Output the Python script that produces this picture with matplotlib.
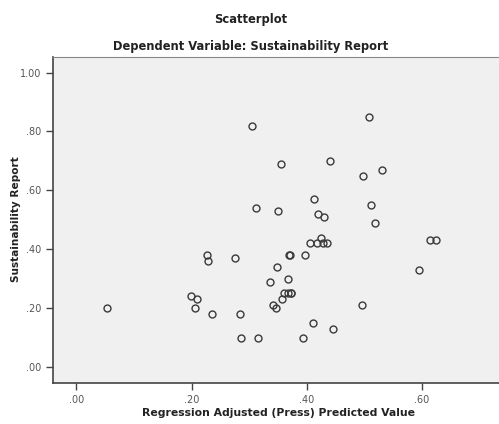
import matplotlib; matplotlib.use("Agg")
import matplotlib.pyplot as plt

# predicted value (x) vs sustainability report (y)
pred = [0.053, 0.198, 0.205, 0.209, 0.226, 0.229, 0.235, 0.276, 0.284, 0.286,
        0.305, 0.312, 0.315, 0.336, 0.341, 0.347, 0.348, 0.350, 0.355, 0.357,
        0.361, 0.367, 0.368, 0.369, 0.371, 0.372, 0.372, 0.394, 0.397, 0.406,
        0.411, 0.412, 0.418, 0.419, 0.425, 0.428, 0.430, 0.435, 0.440, 0.446,
        0.496, 0.497, 0.508, 0.511, 0.519, 0.530, 0.594, 0.614, 0.624]
report = [0.20, 0.24, 0.20, 0.23, 0.38, 0.36, 0.18, 0.37, 0.18, 0.10,
          0.82, 0.54, 0.10, 0.29, 0.21, 0.20, 0.34, 0.53, 0.69, 0.23,
          0.25, 0.30, 0.25, 0.38, 0.38, 0.25, 0.25, 0.10, 0.38, 0.42,
          0.15, 0.57, 0.42, 0.52, 0.44, 0.42, 0.51, 0.42, 0.70, 0.13,
          0.21, 0.65, 0.85, 0.55, 0.49, 0.67, 0.33, 0.43, 0.43]

xticks = [0.0, 0.2, 0.4, 0.6]
yticks = [0.0, 0.2, 0.4, 0.6, 0.8, 1.0]
xtick_labels = [".00", ".20", ".40", ".60"]
ytick_labels = [".00", ".20", ".40", ".60", ".80", "1.00"]

fig = plt.figure(figsize=(4.99, 4.24), dpi=100)
ax = fig.add_axes([0.1062, 0.0967, 0.8938, 0.7689])
ax.set_facecolor("#f0f0f0")
ax.plot(pred, report, "o", ms=5.0, mfc="none", mec="#3a3a3a", mew=1.0, ls="none")

ax.set_xlim(-0.0408, 0.7335)
ax.set_ylim(-0.054, 1.053)
ax.set_xticks(xticks, xtick_labels)
ax.set_yticks(yticks, ytick_labels)
ax.tick_params(direction="out", length=5, width=1, color="#444444",
               labelsize=7, labelcolor="#555555")
for s in ("left", "bottom"):
    ax.spines[s].set_color("#444444"); ax.spines[s].set_linewidth(1.2)
ax.spines["top"].set_color("#888888"); ax.spines["top"].set_linewidth(0.8)
ax.spines["right"].set_visible(False)

# axis titles and chart titles placed as figure text
fig.text(0.559, 0.026, "Regression Adjusted (Press) Predicted Value", ha="center",
         va="center", fontsize=7.8, fontweight="bold", color="#222222")
fig.text(0.032, 0.483, "Sustainability Report", ha="center", va="center",
         rotation=90, fontsize=7.6, fontweight="bold", color="#222222")
fig.text(0.503, 0.953, "Scatterplot", ha="center", va="center",
         fontsize=8.3, fontweight="bold", color="#222222")
fig.text(0.503, 0.891, "Dependent Variable: Sustainability Report", ha="center",
         va="center", fontsize=8.3, fontweight="bold", color="#222222")

fig.savefig("out.png", dpi=100)
